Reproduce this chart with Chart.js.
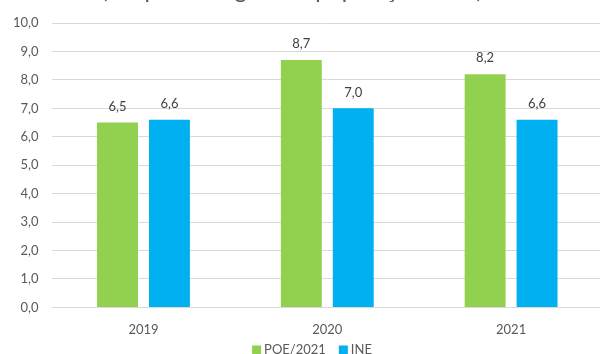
<!DOCTYPE html>
<html>
<head>
<meta charset="utf-8">
<script src="https://cdn.jsdelivr.net/npm/chart.js@4/dist/chart.umd.min.js"></script>
<style>
  html, body { margin: 0; padding: 0; background: #fff; overflow: hidden; }
  #wrap { position: relative; width: 620px; height: 354px; }
</style>
</head>
<body>
<div id="wrap"><canvas id="chart"></canvas></div>
<script>
'use strict';

const years = ['2019', '2020', '2021']
const poeValues = [6.5, 8.7, 8.2]
const ineValues = [6.6, 7.0, 6.6]
const seriesNames = ['POE/2021', 'INE']
const seriesColors = ['#92D050', '#00B0F0']
const yTicks = [0, 1, 2, 3, 4, 5, 6, 7, 8, 9, 10]
const subtitle = '(em percentagem da população ativa)'

const textColor = '#595959'
const fontName = 'Lato, "Open Sans", sans-serif'

function fmt(v) {
    return v.toFixed(1).replace('.', ',')
}

// cut-off title at the very top of the picture
const titlePlugin = {
    id: 'cutTitle',
    afterDraw(chart) {
        const ctx = chart.ctx
        ctx.save()
        ctx.font = '23.5px ' + fontName
        ctx.fillStyle = textColor
        ctx.textAlign = 'center'
        ctx.textBaseline = 'alphabetic'
        ctx.fillText(subtitle, 292, -2)
        ctx.restore()
    }
}

// value labels over the bars
const valueLabels = {
    id: 'valueLabels',
    afterDatasetsDraw(chart) {
        const ctx = chart.ctx
        ctx.save()
        ctx.font = '13px ' + fontName
        ctx.fillStyle = '#404040'
        ctx.textAlign = 'center'
        ctx.textBaseline = 'middle'
        chart.data.datasets.forEach((ds, i) => {
            chart.getDatasetMeta(i).data.forEach((bar, j) => {
                ctx.fillText(fmt(ds.data[j]), bar.x, bar.y - 16)
            })
        })
        ctx.restore()
    }
}

// small legend at the bottom edge (partly cut like the original)
const bottomLegend = {
    id: 'bottomLegend',
    afterDraw(chart) {
        const ctx = chart.ctx
        ctx.save()
        ctx.font = '13px ' + fontName
        ctx.textBaseline = 'middle'
        ctx.textAlign = 'left'
        const box = 9, gap = 3, space = 13
        const widths = chart.data.datasets.map(ds => box + gap + ctx.measureText(ds.label).width)
        const total = widths.reduce((a, b) => a + b, 0) + space * (widths.length - 1)
        let x = 312 - total / 2
        const y = 350
        chart.data.datasets.forEach((ds, i) => {
            ctx.fillStyle = ds.backgroundColor
            ctx.fillRect(x, y - box / 2, box, box)
            ctx.fillStyle = textColor
            ctx.fillText(ds.label, x + box + gap, y)
            x += widths[i] + space
        })
        ctx.restore()
    }
}

const data = {
    labels: years,
    datasets: [
        {
            label: seriesNames[0],
            data: poeValues,
            backgroundColor: seriesColors[0],
            categoryPercentage: 0.565,
            barPercentage: 0.788,
        },
        {
            label: seriesNames[1],
            data: ineValues,
            backgroundColor: seriesColors[1],
            categoryPercentage: 0.565,
            barPercentage: 0.788,
        },
    ]
}

const config = {
    type: 'bar',
    data: data,
    options: {
        responsive: true,
        maintainAspectRatio: false,
        animation: false,
        layout: { padding: { left: 0, right: 17, top: 23, bottom: 1 } },
        plugins: {
            tooltip: { enabled: false },
            legend: { display: false }
        },
        scales: {
            x: {
                grid: { display: false, drawTicks: false },
                border: { display: false },
                ticks: { color: textColor, padding: 15, font: { family: fontName, size: 13 } }
            },
            y: {
                min: 0,
                max: 10,
                afterBuildTicks(axis) {
                    axis.ticks = yTicks.map(v => ({ value: v }))
                },
                grid: { color: '#D9D9D9', lineWidth: 1, drawTicks: false },
                border: { display: false },
                ticks: {
                    color: textColor,
                    padding: 13,
                    font: { family: fontName, size: 13 },
                    callback: v => fmt(v)
                }
            }
        }
    },
    plugins: [titlePlugin, valueLabels, bottomLegend]
}

new Chart(document.getElementById('chart'), config)
</script>
</body>
</html>
